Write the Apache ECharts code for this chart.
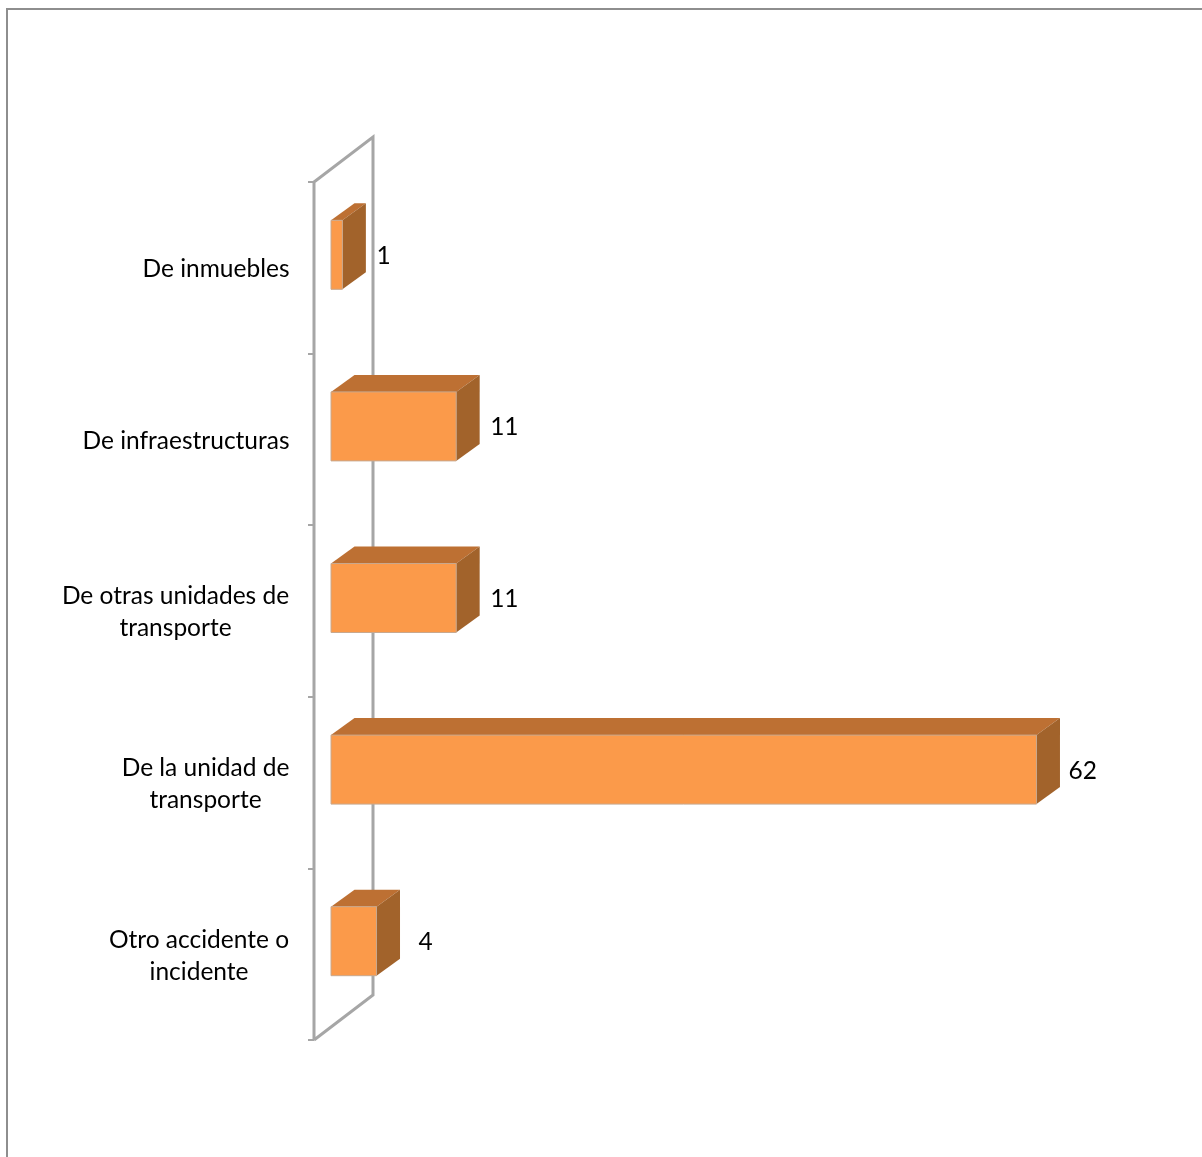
<!DOCTYPE html>
<html><head><meta charset="utf-8">
<style>html,body{margin:0;padding:0;background:#fff}#c{width:1202px;height:1157px}</style>
<script src="https://cdn.jsdelivr.net/npm/echarts@6/dist/echarts.min.js"></script>
</head><body><div id="c"></div>
<script>
const categories = ['De inmuebles','De infraestructuras','De otras unidades de\ntransporte','De la unidad de\ntransporte','Otro accidente o\nincidente'];
const values = [1,11,11,62,4];

const font = 'Lato, Carlito, sans-serif';
const grey = '#A6A6A6';
const wallDx = 59, wallDy = -45;
const barOffX = 17, barOffY = -13;
const depthX = 23.5, depthY = -17;
const barHeight = 69;
const chart = echarts.init(document.getElementById('c'), null, {renderer:'canvas'});

const labelWidths = [146,206,227,167,180];
const rich = {};
labelWidths.forEach((w,i)=>{ rich['l'+i] = {width:w, align:'center', fontFamily:font, fontSize:24.5, color:'#000', lineHeight:32}; });

function renderWall(params, api){
  const s = params.coordSys;
  const x = s.x, t = s.y, b = s.y + s.height;
  return {type:'polyline', silent:true, shape:{points:[
    [x,b],[x,t],[x+wallDx,t+wallDy],[x+wallDx,b+wallDy],[x,b]
  ]}, style:{fill:'none', stroke:grey, lineWidth:3}};
}
function labelGap(v){ return v===4 ? 42 : v===62 ? 32 : 34; }
function renderBar(params, api){
  const v = api.value(0);
  const p = api.coord([v, api.value(1)]);
  const base = api.coord([0, api.value(1)]);
  const x0 = base[0] + barOffX, x1 = p[0] + barOffX;
  const cy = p[1] + barOffY;
  const t = cy - barHeight/2, b = cy + barHeight/2;
  return {type:'group', children:[
    {type:'polygon', shape:{points:[[x0,t],[x0+depthX,t+depthY],[x1+depthX,t+depthY],[x1,t]]}, style:{fill:'#BD7033'}},
    {type:'polygon', shape:{points:[[x1,t],[x1+depthX,t+depthY],[x1+depthX,b+depthY],[x1,b]]}, style:{fill:'#A2632B'}},
    {type:'rect', shape:{x:x0,y:t,width:x1-x0,height:b-t}, style:{fill:'#FB9A4A', stroke:'#C8A88E', lineWidth:1}},
    {type:'text', style:{text:String(v), x:x1+labelGap(v), y:cy+1, align:'left', verticalAlign:'middle', font:'24.5px '+font, fill:'#000'}}
  ]};
}
chart.setOption({
  animation:false,
  backgroundColor:'#fff',
  graphic:[{type:'polyline', silent:true, shape:{points:[[7,1157],[7,9],[1202,9]]}, style:{fill:'none', stroke:'#8E8E8E', lineWidth:2}}],
  grid:{left:314, top:182, width:796.5, height:858, containLabel:false},
  xAxis:{type:'value', min:0, max:70, show:false},
  yAxis:{type:'category', inverse:true, data:categories,
    axisLine:{show:false},
    axisTick:{show:true, length:6, lineStyle:{color:grey, width:2}},
    axisLabel:{margin:25, align:'right', verticalAlign:'middle', padding:[3,0,0,0],
      formatter:(v)=>{const i=categories.indexOf(v); return v.split('\n').map(l=>`{l${i}|${l}}`).join('\n');},
      rich:rich}
  },
  series:[
    {type:'custom', z:1, silent:true, data:[[0,0]], encode:{x:0,y:1}, renderItem:renderWall},
    {type:'custom', z:2, silent:true, data:values.map((v,i)=>[v,i]), encode:{x:0,y:1}, renderItem:renderBar}
  ]
});
</script></body></html>
